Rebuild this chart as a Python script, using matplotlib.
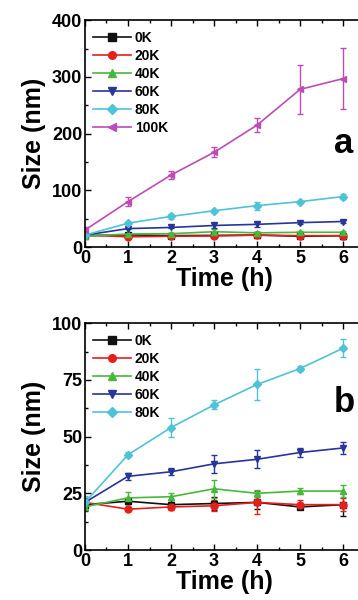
import matplotlib
matplotlib.use("Agg")
import matplotlib.pyplot as plt
from matplotlib.lines import Line2D
from matplotlib.ticker import MultipleLocator

plt.rcParams['font.family'] = ['Liberation Sans', 'DejaVu Sans']
plt.rcParams['font.weight'] = 'bold'

time_h = [0, 1, 2, 3, 4, 5, 6]

labels = ['0K', '20K', '40K', '60K', '80K', '100K']
colors = ['#111111', '#e3201c', '#48b83c', '#28359a', '#4ec3d8', '#bd4cb5']
markers = ['s', 'o', '^', 'v', 'D', '<']

size_0k = [20, 21.5, 20, 20.5, 21, 19, 20]
size_20k = [21, 18, 19, 19.5, 21, 20, 20]
size_40k = [19, 23, 23.5, 27, 25, 26, 26]
size_60k = [21, 32.5, 34.5, 38, 40, 43, 45]
size_80k = [21, 42, 54, 64, 73, 80, 89]
size_100k = [30, 80, 127, 167, 215, 278, 297]

err_0k = [3, 1, 2, 3, 3, 1, 5]
err_20k = [1, 1, 1.5, 2.5, 5, 2, 3]
err_40k = [1.5, 2.5, 1.5, 4, 1.5, 1.5, 2.5]
err_60k = [2, 1.5, 1.5, 4, 4, 2, 2.5]
err_80k = [3, 1, 4, 2, 7, 1, 4]
err_100k = [5, 8, 7, 9, 13, 43, 54]

sizes = [size_0k, size_20k, size_40k, size_60k, size_80k, size_100k]
errs = [err_0k, err_20k, err_40k, err_60k, err_80k, err_100k]

fig = plt.figure(figsize=(3.58, 6.0), dpi=100)
ax_a = fig.add_axes([0.2374, 0.5883, 0.781, 0.378])
ax_b = fig.add_axes([0.2374, 0.0833, 0.781, 0.378])


def draw_panel(ax, n, ymax, ymajor, letter, letter_base):
    handles = []
    for i in range(n):
        ms = 4.5 if markers[i] == 'D' else 5
        ax.errorbar(time_h, sizes[i], yerr=errs[i], color=colors[i], marker=markers[i],
                    markersize=ms, linewidth=1.2,
                    elinewidth=1.0, capsize=2.5, capthick=1.0)
        handles.append(Line2D([], [], color=colors[i], marker=markers[i],
                              markersize=ms + 0.5, linewidth=1.2, label=labels[i]))
    ax.set_xlim(0, 6.5)
    ax.set_ylim(0, ymax)
    ax.xaxis.set_major_locator(MultipleLocator(1))
    ax.xaxis.set_minor_locator(MultipleLocator(0.5))
    ax.yaxis.set_major_locator(MultipleLocator(ymajor))
    ax.yaxis.set_minor_locator(MultipleLocator(ymajor / 2))
    ax.tick_params(which='both', direction='in', top=True, right=False,
                   labelsize=13, pad=2)
    ax.tick_params(which='major', length=4, width=1.0)
    ax.tick_params(which='minor', length=2, width=1.0)
    for sp in ax.spines.values():
        sp.set_linewidth(1.2)
    for lab in ax.get_xticklabels() + ax.get_yticklabels():
        lab.set_fontweight('bold')
    ax.set_xlabel('Time (h)', fontsize=18, fontweight='bold', labelpad=0)
    ax.set_ylabel('Size (nm)', fontsize=18, fontweight='bold', labelpad=4)
    fig.text(344 / 358, letter_base, letter, fontsize=25, fontweight='bold',
             ha='center', va='baseline')
    ax.legend(handles=handles, loc='upper left', frameon=False, fontsize=10,
              handlelength=2.7, handletextpad=0.3, labelspacing=0.29,
              borderaxespad=0.2, bbox_to_anchor=(0.0, 0.99))


draw_panel(ax_a, 6, 400, 100, 'a', 1 - 153 / 600)
draw_panel(ax_b, 5, 100, 25, 'b', 1 - 412 / 600)

fig.savefig('out.png', dpi=100)
